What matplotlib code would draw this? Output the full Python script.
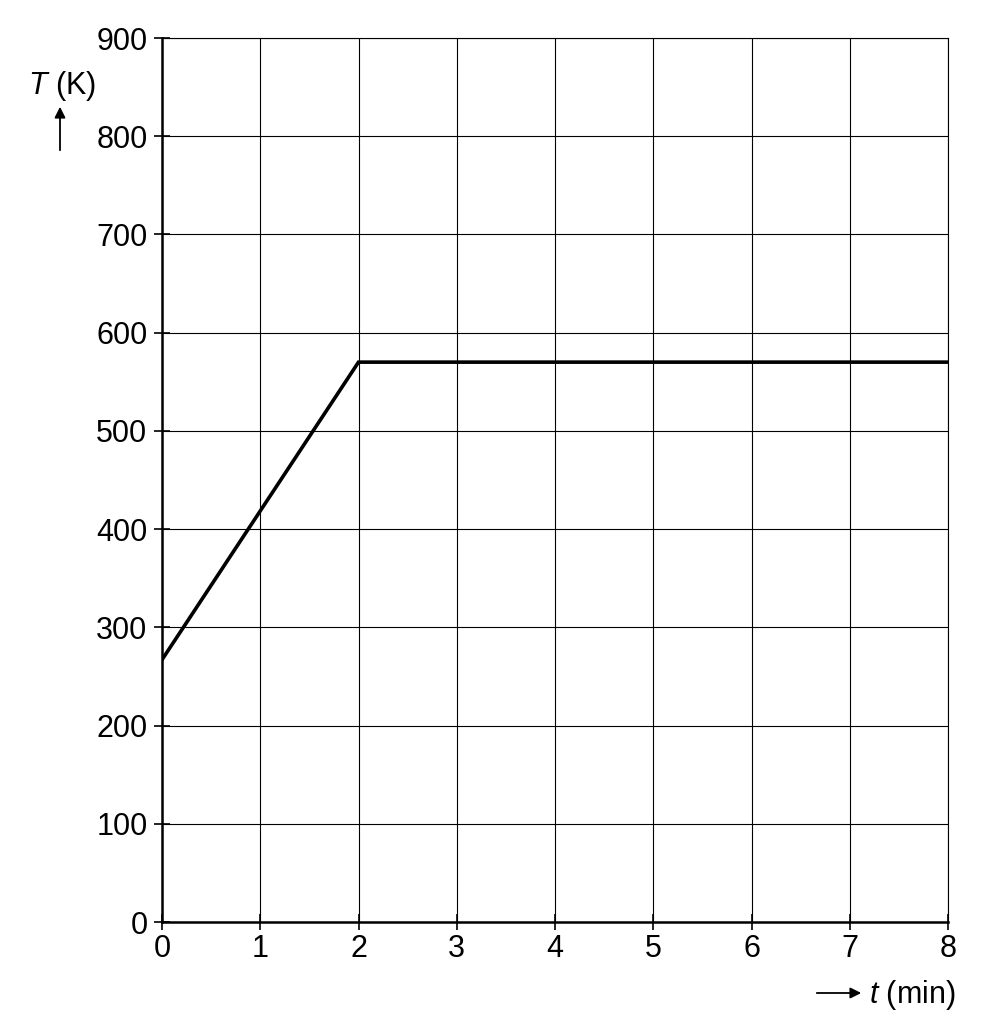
import matplotlib.pyplot as plt

plt.rcParams['font.family'] = ['Liberation Sans', 'DejaVu Sans']
plt.rcParams['mathtext.fontset'] = 'custom'
plt.rcParams['mathtext.it'] = 'Liberation Sans:italic'
plt.rcParams['mathtext.rm'] = 'Liberation Sans'

t = [0, 2, 8]
T = [267, 570, 570]
x_ticks = [0, 1, 2, 3, 4, 5, 6, 7, 8]
y_ticks = [0, 100, 200, 300, 400, 500, 600, 700, 800, 900]

fig = plt.figure(figsize=(9.84, 10.35), dpi=100)
ax = fig.add_axes([162/984, 113/1035, 786/984, 884/1035])

ax.plot(t, T, color='black', lw=2.6, solid_joinstyle='miter', zorder=3)

ax.set_xlim(0, 8)
ax.set_ylim(0, 900)
ax.set_xticks(x_ticks)
ax.set_yticks(y_ticks)
ax.grid(True, color='black', lw=0.8)
ax.tick_params(direction='inout', length=11, width=1.2, labelsize=22)
ax.tick_params(axis='y', pad=5)
ax.tick_params(axis='x', pad=3)
for s in ['top', 'right']:
    ax.spines[s].set_linewidth(0.8)
for s in ['left', 'bottom']:
    ax.spines[s].set_linewidth(1.8)

# axis labels with arrows
fig.text(62/984, 1 - 86/1035, r'$T$ (K)', fontsize=22, ha='center', va='center')
ax.annotate('', xy=(60/984, 1 - 104/1035), xytext=(60/984, 1 - 153/1035),
            xycoords='figure fraction',
            arrowprops=dict(arrowstyle='-|>', color='black', lw=1.3, mutation_scale=16))
ax.annotate('', xy=(864/984, 1 - 993/1035), xytext=(814/984, 1 - 993/1035),
            xycoords='figure fraction',
            arrowprops=dict(arrowstyle='-|>', color='black', lw=1.3, mutation_scale=16))
fig.text(869/984, 1 - 995/1035, r'$t$ (min)', fontsize=22, ha='left', va='center')

fig.savefig('out.png', dpi=100)
